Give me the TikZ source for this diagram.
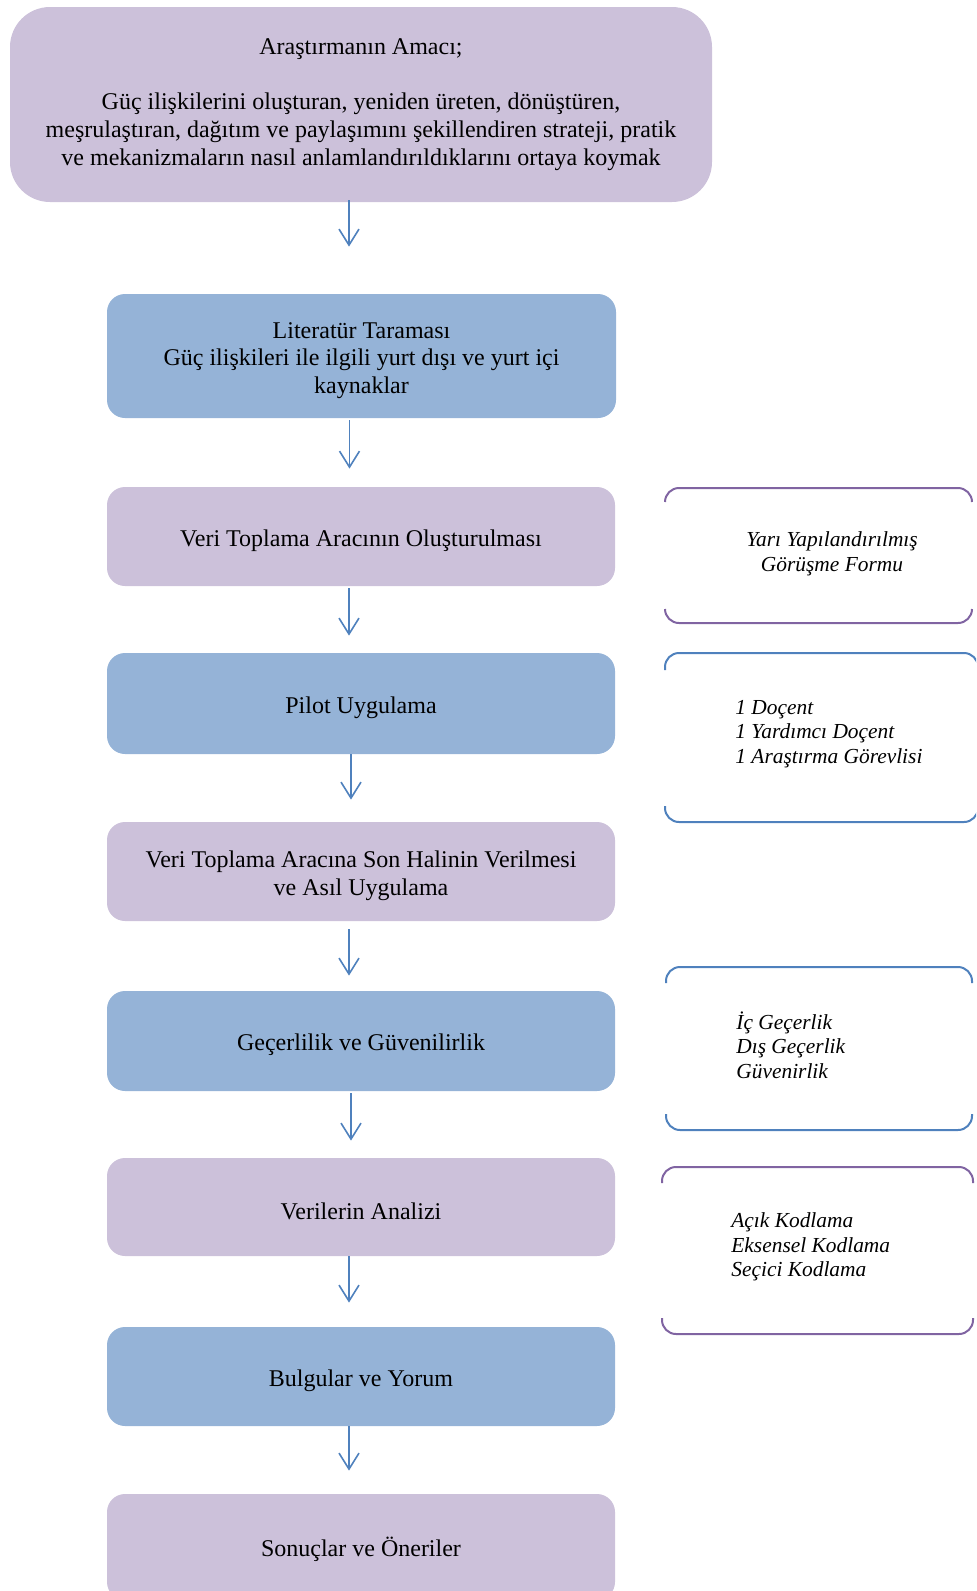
\documentclass[tikz,border=0pt]{standalone}
\usepackage{fontspec}
\setmainfont{Liberation Serif}
\usetikzlibrary{arrows.meta}
\definecolor{lav}{HTML}{CCC1DA}
\definecolor{sky}{HTML}{95B3D7}
\definecolor{arrblue}{HTML}{4F81BD}
\definecolor{brkpurple}{HTML}{8064A2}
\newcommand\toppad{\rule{0pt}{12.5pt}}
\begin{document}
\begin{tikzpicture}[x=0.5pt,y=-0.5pt,
  boxbase/.style={rounded corners=9pt, inner sep=0pt, align=center, text=black,
    font=\fontsize{12}{13.8}\selectfont},
  boxP/.style={boxbase, fill=lav},
  boxB/.style={boxbase, fill=sky},
  mainsize/.style={minimum width=254pt, minimum height=#1},
  arr/.style={draw=arrblue, line width=0.8pt,
    -{Straight Barb[length=8pt,width=10pt,line width=0.8pt]}},
  sidetext/.style={inner sep=0pt, text=black,
    font=\itshape\fontsize{10.7}{12.3}\selectfont},
  brkP/.style={draw=brkpurple, line width=1pt, rounded corners=7pt},
  brkB/.style={draw=arrblue, line width=1pt, rounded corners=7pt}]
\clip (0,0) rectangle (976,1591);
\useasboundingbox (0,0) rectangle (976,1591);

% main boxes
\node[boxP, rounded corners=20pt, minimum width=351pt, minimum height=97.5pt] (aim) at (361,104.5)
  {Araştırmanın Amacı;\\[13.8pt]
   Güç ilişkilerini oluşturan, yeniden üreten, dönüştüren,\\
   meşrulaştıran, dağıtım ve paylaşımını şekillendiren strateji, pratik\\
   ve mekanizmaların nasıl anlamlandırıldıklarını ortaya koymak};
\node[boxB, minimum width=254.5pt, minimum height=62pt] (lit) at (361.5,356)
  {\toppad Literatür Taraması\\Güç ilişkileri ile ilgili yurt dışı ve yurt içi\\kaynaklar};
\node[boxP, mainsize=49.5pt] (arac) at (361,536.5) {\toppad Veri Toplama Aracının Oluşturulması};
\node[boxB, mainsize=50.5pt] (pilot) at (361,703.5) {\toppad Pilot Uygulama};
\node[boxP, mainsize=49.5pt] (son) at (361,871.5) {\toppad Veri Toplama Aracına Son Halinin Verilmesi\\ve Asıl Uygulama};
\node[boxB, mainsize=50pt] (gec) at (361,1041) {\toppad Geçerlilik ve Güvenilirlik};
\node[boxP, mainsize=49pt] (analiz) at (361,1207) {\toppad Verilerin Analizi};
\node[boxB, mainsize=49.5pt] (bulg) at (361,1376.5) {\toppad Bulgular ve Yorum};
\node[boxP, mainsize=53pt] (sonuc) at (361,1547) {\toppad Sonuçlar ve Öneriler};

% arrows
\draw[arr, shorten <=-1pt, shorten >=23.5pt] ([xshift=-6pt]aim.south) -- ([xshift=-6pt]aim.south |- lit.north);
\draw[arr, shorten <=1pt, shorten >=9pt] ([xshift=-6pt]lit.south) -- ([xshift=-6pt]lit.south |- arac.north);
\draw[arr, shorten <=1pt, shorten >=8.5pt] ([xshift=-6pt]arac.south) -- ([xshift=-6pt]arac.south |- pilot.north);
\draw[arr, shorten <=0pt, shorten >=11pt] ([xshift=-5pt]pilot.south) -- ([xshift=-5pt]pilot.south |- son.north);
\draw[arr, shorten <=4pt, shorten >=7.5pt] ([xshift=-6pt]son.south) -- ([xshift=-6pt]son.south |- gec.north);
\draw[arr, shorten <=1pt, shorten >=8.5pt] ([xshift=-5pt]gec.south) -- ([xshift=-5pt]gec.south |- analiz.north);
\draw[arr, shorten <=0pt, shorten >=12pt] ([xshift=-6pt]analiz.south) -- ([xshift=-6pt]analiz.south |- bulg.north);
\draw[arr, shorten <=0pt, shorten >=11.5pt] ([xshift=-6pt]bulg.south) -- ([xshift=-6pt]bulg.south |- sonuc.north);

% side brackets
\draw[brkP] (665,502) |- (972,488) -- (972,502);
\draw[brkP] (665,609) |- (972,623) -- (972,609);
\node[sidetext, align=center] (form) at (832,554) {Yarı Yapılandırılmış\\Görüşme Formu};

\draw[brkB] (665,670) |- (978,653) -- (978,670);
\draw[brkB] (665,806) |- (978,822) -- (978,806);
\node[sidetext, align=left, anchor=west] (kisi) at (735,734)
  {1 Doçent\\1 Yardımcı Doçent\\1 Araştırma Görevlisi};

\draw[brkB] (666,983) |- (972,967) -- (972,983);
\draw[brkB] (666,1114) |- (972,1130) -- (972,1114);
\node[sidetext, align=left, anchor=west] (gecl) at (736,1045)
  {İç Geçerlik\\Dış Geçerlik\\Güvenirlik};

\draw[brkP] (662,1183) |- (973,1167) -- (973,1183);
\draw[brkP] (662,1318) |- (973,1334) -- (973,1318);
\node[sidetext, align=left, anchor=west] (kod) at (731,1247)
  {Açık Kodlama\\Eksensel Kodlama\\Seçici Kodlama};
\end{tikzpicture}
\end{document}
